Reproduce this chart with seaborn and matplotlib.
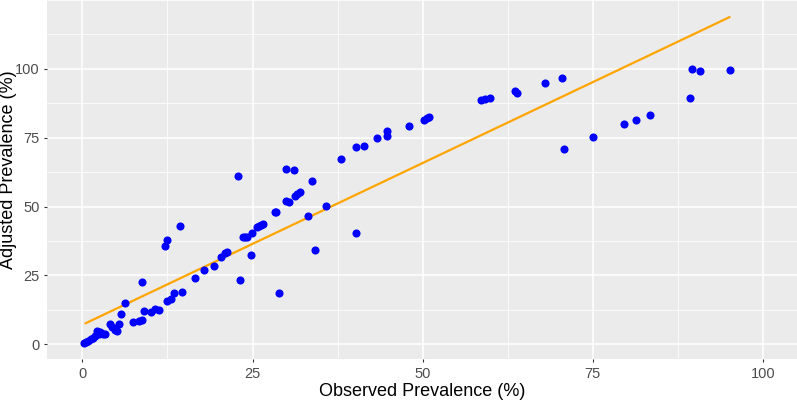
import matplotlib
matplotlib.use("Agg")
import matplotlib.pyplot as plt
from matplotlib.ticker import MultipleLocator
import pandas as pd
import seaborn as sns

# ── Data ──────────────────────────────────────────────────────────────────────
observed = [
    0.3, 0.5, 0.8, 1.2, 1.6, 1.9, 2.1, 2.4, 2.6, 2.8, 3.0, 3.3,
    4.0, 4.4, 4.8, 5.1, 5.4, 5.6, 6.3, 7.4, 8.3, 8.7, 8.8, 9.0,
    10.1, 10.6, 11.2, 12.2, 12.4, 12.5, 13.0, 13.4, 14.4, 14.6,
    16.6, 17.9, 19.4, 20.4, 20.9, 21.2, 22.8, 23.2, 23.6, 23.9,
    24.2, 24.7, 24.9, 25.6, 25.9, 26.2, 26.5, 28.3, 28.5, 28.9,
    29.9, 29.9, 30.3, 31.1, 31.2, 31.6, 31.9, 33.1, 33.7, 34.2,
    35.8, 38.0, 40.2, 40.2, 41.4, 43.3, 44.8, 44.8, 48.0, 50.2,
    50.6, 51.0, 58.6, 59.2, 59.9, 63.5, 63.9, 67.9, 70.5, 70.7,
    75.0, 79.6, 81.3, 83.4, 89.3, 89.6, 90.7, 95.2,
]
adjusted = [
    0.4, 0.8, 1.3, 1.8, 2.4, 3.0, 4.8, 3.6, 4.6, 4.2, 3.6, 3.9,
    7.2, 6.2, 5.2, 4.8, 7.2, 10.9, 14.9, 8.1, 8.4, 8.7, 22.7, 12.0,
    11.7, 12.9, 12.6, 35.6, 38.0, 15.7, 16.3, 18.5, 42.9, 19.1,
    24.0, 26.9, 28.6, 31.6, 33.2, 33.6, 61.0, 23.2, 38.9, 38.9,
    38.9, 32.4, 40.5, 42.5, 42.9, 43.4, 43.8, 48.1, 48.1, 18.7,
    63.8, 52.1, 51.7, 63.2, 53.7, 54.7, 55.2, 46.5, 59.4, 34.2,
    50.1, 67.1, 71.7, 40.5, 72.1, 74.9, 75.5, 77.6, 79.1, 81.5,
    82.1, 82.7, 88.7, 89.2, 89.6, 91.9, 91.2, 94.9, 96.7, 70.9,
    75.3, 79.8, 81.3, 83.4, 89.4, 99.9, 99.3, 99.5,
]

# fitted line, start and end as drawn
fit_x = [0.44, 95.1]
fit_y = [7.6, 118.8]

ticks = [0, 25, 50, 75, 100]

df = pd.DataFrame({"observed": observed, "adjusted": adjusted})
fit = pd.DataFrame({"x": fit_x, "y": fit_y})

# ── ggplot-like theme ─────────────────────────────────────────────────────────
sns.set_theme(style="darkgrid", rc={
    "axes.facecolor": "#EBEBEB",
    "grid.color": "white",
    "axes.edgecolor": "none",
    "xtick.color": "#333333",
    "ytick.color": "#333333",
})
plt.rcParams["font.family"] = ["Liberation Sans", "DejaVu Sans"]

fig, ax = plt.subplots(figsize=(7.97, 4.01), dpi=100)
fig.subplots_adjust(left=0.059, right=1.0, top=1.0, bottom=0.105)

sns.scatterplot(data=df, x="observed", y="adjusted", ax=ax,
                color="#0000FF", s=34, linewidth=0, zorder=3)
sns.lineplot(data=fit, x="x", y="y", ax=ax, color="#FFA500",
             linewidth=1.6, zorder=2)

ax.set_xlim(-5.2, 105.0)
ax.set_ylim(-5.3, 125.0)
ax.set_xticks(ticks)
ax.set_yticks(ticks)
ax.xaxis.set_minor_locator(MultipleLocator(12.5))
ax.yaxis.set_minor_locator(MultipleLocator(12.5))
ax.grid(which="major", color="white", linewidth=1.1)
ax.grid(which="minor", color="white", linewidth=0.55)
ax.tick_params(which="major", length=2.5, width=0.8, color="#333333",
               labelsize=10.5, labelcolor="#4D4D4D", pad=3, bottom=True, left=True)
ax.tick_params(which="minor", length=0)

ax.set_xlabel("Observed Prevalence (%)", fontsize=13, color="black", labelpad=2)
ax.set_ylabel("Adjusted Prevalence (%)", fontsize=13, color="black")
ax.yaxis.set_label_coords(-0.040, 0.526)

fig.savefig("out.png", dpi=100)
plt.close()
